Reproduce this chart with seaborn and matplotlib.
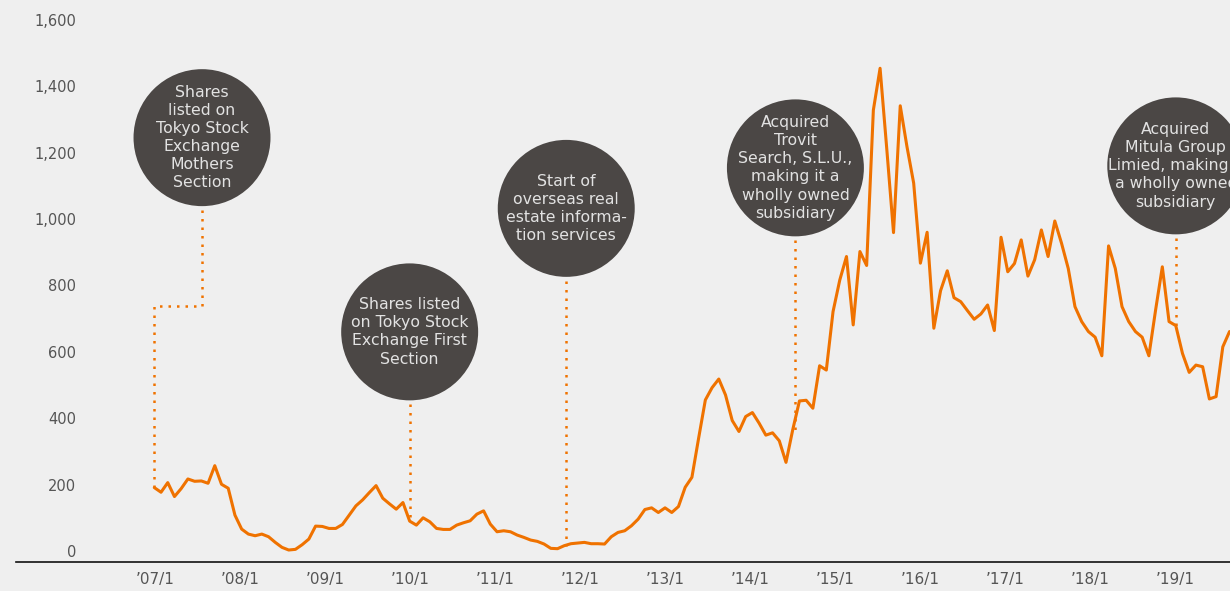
import numpy as np
import pandas as pd
import seaborn as sns
import matplotlib.pyplot as plt

# ---------------- data ----------------
values = [
    191, 177, 206, 164, 188, 217, 210, 211, 204, 257,
    201, 189, 108, 66, 51, 46, 51, 43, 26, 11,
    3, 5, 19, 36, 75, 74, 68, 68, 80, 108,
    136, 154, 176, 197, 159, 142, 126, 146, 90, 78,
    100, 88, 68, 65, 65, 78, 85, 91, 111, 121,
    81, 58, 61, 58, 48, 41, 33, 29, 21, 8,
    7, 16, 22, 24, 26, 22, 22, 21, 43, 56,
    61, 76, 96, 125, 130, 116, 130, 116, 134, 192,
    222, 340, 455, 492, 518, 470, 393, 360, 405, 417,
    385, 349, 356, 332, 267, 365, 452, 454, 430, 558,
    545, 721, 816, 887, 681, 902, 860, 1328, 1454, 1210,
    959, 1341, 1218, 1108, 867, 960, 671, 784, 844, 763,
    751, 724, 698, 714, 741, 664, 945, 841, 866, 937,
    828, 877, 967, 887, 994, 927, 851, 736, 691, 661,
    644, 588, 919, 851, 736, 691, 661, 644, 588, 726,
    856, 691, 679, 595, 538, 560, 555, 458, 465, 615,
    661,
]

x_labels = ["’07/1", "’08/1", "’09/1", "’10/1", "’11/1", "’12/1", "’13/1",
            "’14/1", "’15/1", "’16/1", "’17/1", "’18/1", "’19/1"]

y_ticks = [0, 200, 400, 600, 800, 1000, 1200, 1400, 1600]

notes = [
    "Shares\nlisted on\nTokyo Stock\nExchange\nMothers\nSection",
    "Shares listed\non Tokyo Stock\nExchange First\nSection",
    "Start of\noverseas real\nestate informa-\ntion services",
    "Acquired\nTrovit\nSearch, S.L.U.,\nmaking it a\nwholly owned\nsubsidiary",
    "Acquired\nMitula Group\nLimied, making it\na wholly owned\nsubsidiary",
]
note_anchor = [0, 38, 61, 95, 152]          # data point each note points to

# ---------------- layout / style ----------------
BG = "#efefef"
ORANGE = "#ef7200"
CIRCLE = "#4b4745"
TXT = "#e2e2e2"
TICK = "#555555"

circle_x = [7.1, 38, 61.3, 95.4, 152]       # circle centres (point index units)
circle_y = [1245, 660, 1032, 1154, 1160]    # circle centres (value units)
elbow_y = 738                               # elbow of first connector
R_VAL = 206                                 # circle radius in value units
tick_step = 85 / 6.72                       # points per year label

df = pd.DataFrame({"idx": np.arange(len(values)), "value": values})

sns.set_theme(style="white")
plt.rcParams["font.family"] = ["DejaVu Sans"]

fig = plt.figure(figsize=(12.3, 5.91), dpi=100, facecolor=BG)
ax = fig.add_axes([16 / 1230, 29 / 591, 1214 / 1230, 562 / 591])
ax.set_facecolor(BG)

sns.lineplot(data=df, x="idx", y="value", ax=ax, color=ORANGE, lw=2.2,
             zorder=3)

# connectors (dotted)
dot = dict(color=ORANGE, lw=1.8, linestyle=(0, (1, 2.4)), zorder=2)
for k, (cx, cy, a) in enumerate(zip(circle_x, circle_y, note_anchor)):
    top = cy - R_VAL - 12
    if k == 0:
        ax.plot([cx, cx, a, a], [top, elbow_y, elbow_y, values[a]], **dot)
    else:
        ax.plot([cx, cx], [top, values[a]], **dot)

# circles
ax.scatter(circle_x, circle_y, s=9725, color=CIRCLE, edgecolor="none",
           zorder=4, clip_on=True)
for cx, cy, t in zip(circle_x, circle_y, notes):
    ax.text(cx, cy, t, ha="center", va="center", color=TXT, fontsize=11.3,
            linespacing=1.26, zorder=5, clip_on=True)

ax.set_xlim(-20.58, 160.07)
ax.set_ylim(-33.1, 1659.6)

ax.set_yticks(y_ticks)
ax.set_yticklabels([f"{v:,}" for v in y_ticks])
ax.set_xticks([0.1 + tick_step * k for k in range(len(x_labels))])
ax.set_xticklabels(x_labels)

ax.tick_params(axis="y", length=0, pad=-43.2, labelcolor=TICK, labelsize=10.5)
ax.tick_params(axis="x", length=0, pad=7, labelcolor=TICK, labelsize=11)
ax.set_xlabel("")
ax.set_ylabel("")

for s in ["left", "top", "right"]:
    ax.spines[s].set_visible(False)
ax.spines["bottom"].set_color("#111111")
ax.spines["bottom"].set_linewidth(1.2)

fig.savefig("out.png", dpi=100, facecolor=BG)
